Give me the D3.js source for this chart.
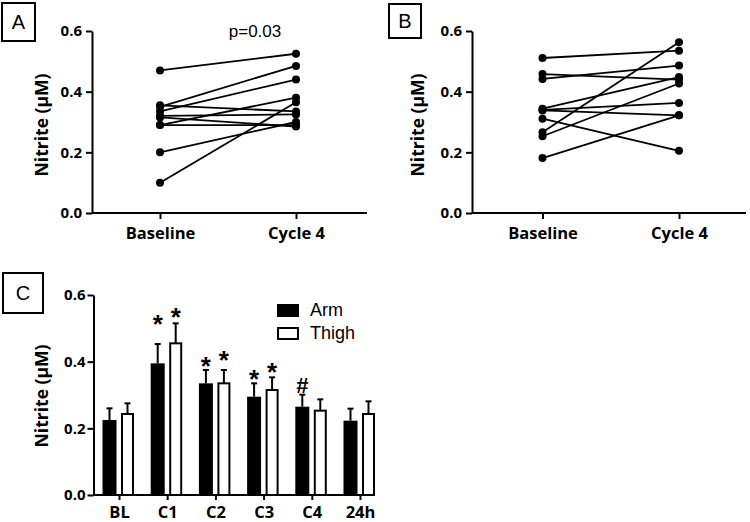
<!DOCTYPE html>
<html>
<head>
<meta charset="utf-8">
<script src="https://cdn.jsdelivr.net/npm/d3@7"></script>
<style>
  html, body { margin: 0; padding: 0; background: #fff; }
  svg { display: block; }
  .tick text, .cat { font-family: "Open Sans", sans-serif; font-weight: bold; fill: #000; }
</style>
</head>
<body>
<svg id="chart" width="750" height="522"></svg>
<script>
// ---------- data ----------
const pairCats = ["Baseline", "Cycle 4"];
const aBaseline = [0.47, 0.35, 0.335, 0.29, 0.10, 0.20, 0.355, 0.32, 0.315, 0.29];
const aCycle4   = [0.525, 0.485, 0.44, 0.38, 0.365, 0.30, 0.335, 0.325, 0.285, 0.29];
const bBaseline = [0.511, 0.458, 0.442, 0.344, 0.34, 0.338, 0.311, 0.266, 0.253, 0.181];
const bCycle4   = [0.535, 0.44, 0.486, 0.448, 0.363, 0.322, 0.205, 0.563, 0.427, 0.322];
const yTicks = [0, 0.2, 0.4, 0.6];

const cCats = ["BL", "C1", "C2", "C3", "C4", "24h"];
const seriesNames = ["Arm", "Thigh"];
const armMean   = [0.225, 0.395, 0.335, 0.295, 0.265, 0.223];
const armSEM    = [0.035, 0.058, 0.040, 0.040, 0.036, 0.036];
const thighMean = [0.243, 0.455, 0.335, 0.315, 0.253, 0.243];
const thighSEM  = [0.032, 0.060, 0.040, 0.038, 0.034, 0.038];
const sigCats   = ["C1", "C1", "C2", "C2", "C3", "C3", "C4"];
const sigSeries = ["Arm", "Thigh", "Arm", "Thigh", "Arm", "Thigh", "Arm"];
const sigLabels = ["*", "*", "*", "*", "*", "*", "#"];
const sigLevels = [0.531, 0.55, 0.405, 0.423, 0.365, 0.387, 0.33];

const yTitle = "Nitrite (\u00B5M)";
const fmt = d3.format(".1f");

const svg = d3.select("#chart");

function panelLabel(x, y, w, h, letter) {
  svg.append("rect").attr("x", x).attr("y", y).attr("width", w).attr("height", h)
    .attr("fill", "#fff").attr("stroke", "#000").attr("stroke-width", 2);
  svg.append("text").attr("x", x + w / 2).attr("y", y + h / 2 + 7)
    .attr("text-anchor", "middle")
    .style("font-family", "'Liberation Sans', Arial, sans-serif")
    .style("font-size", "20px").text(letter);
}

function styleAxis(g) {
  g.selectAll("path, line").attr("stroke", "#000").attr("stroke-width", 2);
}

function drawPair(cfg) {
  const y = d3.scaleLinear().domain([0, 0.6]).range([cfg.y0, cfg.y1]);
  const x = d3.scalePoint().domain(pairCats).range([cfg.xb, cfg.xc]);
  const g = svg.append("g");

  const ya = g.append("g").attr("transform", `translate(${cfg.ax},0)`)
    .call(d3.axisLeft(y).tickValues(yTicks).tickFormat(fmt).tickSize(6).tickSizeOuter(0).tickPadding(4));
  ya.selectAll("text").style("font-size", "15px");
  styleAxis(ya);

  const xa = g.append("g").attr("transform", `translate(0,${cfg.y0})`)
    .call(d3.axisBottom(x).tickSize(6).tickSizeOuter(0).tickPadding(8));
  xa.select(".domain").remove();
  xa.selectAll("text").style("font-size", "16.5px");
  styleAxis(xa);
  g.append("line").attr("x1", cfg.ax).attr("x2", cfg.axEnd)
    .attr("y1", cfg.y0).attr("y2", cfg.y0).attr("stroke", "#000").attr("stroke-width", 2);

  const pairs = cfg.base.map((b, i) => [b, cfg.cyc[i]]);
  g.selectAll(".pl").data(pairs).join("line")
    .attr("x1", x(pairCats[0])).attr("x2", x(pairCats[1]))
    .attr("y1", d => y(d[0])).attr("y2", d => y(d[1]))
    .attr("stroke", "#000").attr("stroke-width", 1.8);
  const pts = [];
  pairs.forEach(p => { pts.push([pairCats[0], p[0]]); pts.push([pairCats[1], p[1]]); });
  g.selectAll(".pt").data(pts).join("circle")
    .attr("cx", d => x(d[0])).attr("cy", d => y(d[1])).attr("r", 4).attr("fill", "#000");

  g.append("text").attr("class", "cat")
    .attr("transform", `translate(${cfg.titleX},${cfg.titleY}) rotate(-90)`)
    .attr("text-anchor", "middle").style("font-size", "17.5px").text(yTitle);
  return { x, y, g };
}

// Panel A
panelLabel(2, 3, 33, 38, "A");
drawPair({ y0: 213, y1: 31, ax: 92, axEnd: 367, xb: 160, xc: 296,
  base: aBaseline, cyc: aCycle4, titleX: 48, titleY: 125 });
svg.append("text").attr("x", 255).attr("y", 37).attr("text-anchor", "middle")
  .style("font-family", "'Liberation Sans', Arial, sans-serif").style("font-size", "17px")
  .text("p=0.03");

// Panel B
panelLabel(389, 4, 32, 34, "B");
drawPair({ y0: 213, y1: 31, ax: 472, axEnd: 746, xb: 542.5, xc: 679,
  base: bBaseline, cyc: bCycle4, titleX: 424, titleY: 125 });

// Panel C
panelLabel(3, 273, 40, 40, "C");
(function () {
  const y = d3.scaleLinear().domain([0, 0.6]).range([495, 295]);
  const x = d3.scalePoint().domain(cCats).range([119, 360]);
  const g = svg.append("g");
  const armOff = -9.5, thighOff = 8.5;

  const ya = g.append("g").attr("transform", "translate(93.5,0)")
    .call(d3.axisLeft(y).tickValues(yTicks).tickFormat(fmt).tickSize(6).tickSizeOuter(0).tickPadding(2));
  ya.selectAll("text").style("font-size", "15px");
  styleAxis(ya);

  const xa = g.append("g").attr("transform", "translate(0,495)")
    .call(d3.axisBottom(x).tickSize(5).tickSizeOuter(0).tickPadding(6));
  xa.select(".domain").remove();
  xa.selectAll("text").style("font-size", "16.5px");
  styleAxis(xa);

  const rows = cCats.map((c, i) => ({ c, am: armMean[i], ae: armSEM[i], tm: thighMean[i], te: thighSEM[i] }));

  const err = [];
  rows.forEach(r => {
    err.push({ cx: x(r.c) + armOff, m: r.am, e: r.ae });
    err.push({ cx: x(r.c) + thighOff, m: r.tm, e: r.te });
  });
  g.selectAll(".ev").data(err).join("line")
    .attr("x1", d => d.cx).attr("x2", d => d.cx)
    .attr("y1", d => y(d.m)).attr("y2", d => y(d.m + d.e))
    .attr("stroke", "#000").attr("stroke-width", 2);
  g.selectAll(".ec").data(err).join("line")
    .attr("x1", d => d.cx - 3).attr("x2", d => d.cx + 3)
    .attr("y1", d => y(d.m + d.e)).attr("y2", d => y(d.m + d.e))
    .attr("stroke", "#000").attr("stroke-width", 2);

  g.selectAll(".arm").data(rows).join("rect")
    .attr("x", d => x(d.c) - 16.5).attr("width", 14)
    .attr("y", d => y(d.am)).attr("height", d => y(0) - y(d.am))
    .attr("fill", "#000");
  g.selectAll(".thigh").data(rows).join("rect")
    .attr("x", d => x(d.c) + 3).attr("width", 11)
    .attr("y", d => y(d.tm)).attr("height", d => y(0) - y(d.tm))
    .attr("fill", "#fff").attr("stroke", "#000").attr("stroke-width", 2);

  g.append("line").attr("x1", 93.5).attr("x2", 366).attr("y1", 495).attr("y2", 495)
    .attr("stroke", "#000").attr("stroke-width", 2);

  sigCats.forEach((c, i) => {
    const cx = x(c) + (sigSeries[i] === "Arm" ? armOff : thighOff);
    const isStar = sigLabels[i] === "*";
    const fs = isStar ? 26 : 22;
    const shift = isStar ? 0.56 * fs : 0.36 * fs;
    g.append("text").attr("x", cx).attr("y", y(sigLevels[i]) + shift)
      .attr("text-anchor", "middle")
      .style("font-family", "'Liberation Sans', Arial, sans-serif")
      .style("font-weight", "bold").style("font-size", fs + "px")
      .text(sigLabels[i]);
  });

  const leg = g.append("g");
  seriesNames.forEach((s, i) => {
    const top = i === 0 ? 304 : 328;
    if (i === 0) {
      leg.append("rect").attr("x", 277).attr("y", top).attr("width", 22).attr("height", 13).attr("fill", "#000");
    } else {
      leg.append("rect").attr("x", 278).attr("y", top).attr("width", 20).attr("height", 11)
        .attr("fill", "#fff").attr("stroke", "#000").attr("stroke-width", 2);
    }
    leg.append("text").attr("x", 310).attr("y", i === 0 ? 316 : 339)
      .style("font-family", "'Liberation Sans', Arial, sans-serif").style("font-size", "18px")
      .style("font-weight", 500)
      .text(s);
  });

  g.append("text").attr("class", "cat")
    .attr("transform", "translate(48,396) rotate(-90)")
    .attr("text-anchor", "middle").style("font-size", "17.5px").text(yTitle);
})();
</script>
</body>
</html>
